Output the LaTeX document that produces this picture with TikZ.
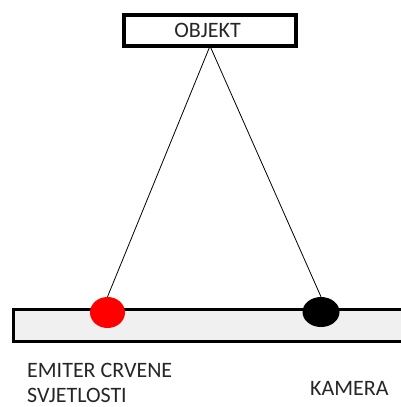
\documentclass[tikz,border=0pt]{standalone}
\usepackage{fontspec}
\setmainfont{Carlito}
\usetikzlibrary{shapes.geometric}
\begin{document}
\begin{tikzpicture}[x=1pt,y=-1pt,
  lbl/.style={inner sep=0pt,font=\fontsize{22}{25}\selectfont,text=black!85},
  boxst/.style={draw=black,line width=4pt,fill=white,minimum width=172pt,minimum height=31pt,inner sep=0pt},
  dot/.style={ellipse,inner sep=0pt}]
\useasboundingbox (0,0) rectangle (400,407);
\fill[white] (0,0) rectangle (400,407);
% base bar
\draw[line width=3pt,fill=black!6] (13,309) rectangle (404,341);
% object
\node[boxst] (obj) at (209.5,30) {};
\node[lbl,anchor=base] (objt) at (207.5,37) {OBJEKT};
\coordinate (apex) at (210,46);
% dots
\node[dot,fill=red,minimum width=35pt,minimum height=31pt] (em) at (107.5,312.5) {};
\node[dot,fill=black,minimum width=37pt,minimum height=30pt] (cam) at (321,312) {};
\draw[line width=0.8pt] (apex) -- (em.north);
\draw[line width=0.8pt] (apex) -- (cam.north);
% labels
\node[lbl,align=left,anchor=base west] (emt) at (27,402) {EMITER CRVENE\\SVJETLOSTI};
\node[lbl,anchor=base west] (kam) at (310,395) {KAMERA};
\end{tikzpicture}
\end{document}
